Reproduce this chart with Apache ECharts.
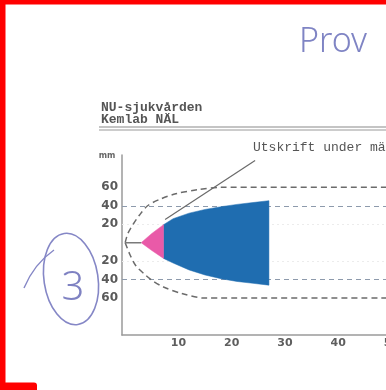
<!DOCTYPE html>
<html>
<head>
<meta charset="utf-8">
<script src="https://cdn.jsdelivr.net/npm/echarts@6/dist/echarts.min.js"></script>
<style>
  html, body { margin: 0; padding: 0; background: #ffffff; }
  #chart { width: 386px; height: 390px; }
</style>
</head>
<body>
<div id="chart"></div>
<script>
// Axis tick labels
const xTicks = [10, 20, 30, 40, 50];
const yTicks = [-60, -40, -20, 20, 40, 60];

// Pink leading segment (upper / lower edge, mm)
const pinkX = [3, 5, 7.2];
const pinkUpper = [0, 10, 19.5];
const pinkLower = [0, -8.5, -17];

// Blue main body (upper / lower edge, mm)
const blueX = [7.2, 9, 12, 15, 18, 21, 24, 27];
const blueUpper = [19.5, 26, 32, 36, 39, 41.5, 43.5, 45.5];
const blueLower = [-17, -22, -29.5, -35, -39, -42, -44, -46];

// Dashed limit curves
const limitUpX = [0, 0.5, 1.5, 2.7, 4.2, 6.5, 9.5, 13.7, 18, 55];
const limitUpY = [0, 10, 20, 30, 40, 47, 53, 57.5, 60, 60];
const limitLoX = [0, 0.9, 2, 3.6, 5.1, 7.2, 10.6, 14.9, 55];
const limitLoY = [0, -13, -25, -34, -41, -48, -55, -60, -60];

// Reference levels (mm)
const refLevels = [40, -40];
const faintLevels = [20, -20];

// Start stub and leader line to the note
const stubX = [0, 3];
const stubY = [0, 0];
const leaderX = [7.5, 24.4];
const leaderY = [25, 89];

const zip = (xs, ys) => xs.map((x, i) => [x, ys[i]]);

const chart = echarts.init(document.getElementById('chart'), null, { renderer: 'canvas' });

// A filled band between a lower and an upper edge, drawn as one polygon
// whose corners are mapped through the cartesian coordinate system.
const band = (xs, lower, upper, color) => ({
  type: 'custom',
  coordinateSystem: 'cartesian2d',
  data: [[xs[0], 0]],
  silent: true,
  z: 3,
  renderItem: (params, api) => {
    const top = xs.map((x, i) => api.coord([x, upper[i]]));
    const bottom = xs.map((x, i) => api.coord([x, lower[i]])).reverse();
    return {
      type: 'polygon',
      shape: { points: top.concat(bottom) },
      style: { fill: color, stroke: color, lineWidth: 0.5 }
    };
  }
});

const dashed = (xs, ys) => ({
  type: 'line',
  data: zip(xs, ys),
  symbol: 'none',
  smooth: 0.3,
  lineStyle: { color: '#6b6b6b', width: 1.5, type: [6, 4] },
  silent: true,
  z: 4
});

const refLine = (levels, style) => ({
  type: 'line',
  data: [],
  z: 1,
  markLine: {
    silent: true,
    symbol: 'none',
    z: 1,
    label: { show: false },
    lineStyle: style,
    data: levels.map(v => ({ yAxis: v }))
  }
});

const option = {
  animation: false,
  backgroundColor: '#ffffff',
  grid: { left: 122, width: 296, top: 155, bottom: 55, outerBoundsMode: 'none', containLabel: false },
  xAxis: {
    type: 'value',
    min: -0.6,
    max: 55,
    axisLine: { onZero: false, lineStyle: { color: '#9a9a9a', width: 1.5 } },
    axisTick: { show: false },
    splitLine: { show: false },
    axisLabel: {
      customValues: xTicks,
      color: '#5e5e5e',
      fontFamily: 'DejaVu Sans',
      fontWeight: 'bold',
      fontSize: 11,
      margin: 3
    }
  },
  yAxis: {
    type: 'value',
    min: -100,
    max: 95,
    axisLine: { onZero: false, lineStyle: { color: '#9a9a9a', width: 1.5 } },
    axisTick: { show: false },
    splitLine: { show: false },
    axisLabel: {
      customValues: yTicks,
      formatter: v => String(Math.abs(v)),
      color: '#5a5a5a',
      fontFamily: 'DejaVu Sans',
      fontWeight: 'bold',
      fontSize: 12,
      margin: 4
    }
  },
  series: [
    refLine(refLevels, { color: '#8d9aac', width: 1.2, type: [5, 4] }),
    refLine(faintLevels, { color: '#ececec', width: 1, type: [2, 3] }),
    band(blueX, blueLower, blueUpper, '#1f6db0'),
    band(pinkX, pinkLower, pinkUpper, '#e95aa8'),
    dashed(limitUpX, limitUpY),
    dashed(limitLoX, limitLoY),
    {
      type: 'line',
      data: zip(stubX, stubY),
      symbol: 'none',
      lineStyle: { color: '#7a7a7a', width: 1.5 },
      silent: true,
      z: 4
    },
    {
      type: 'line',
      data: zip(leaderX, leaderY),
      symbol: 'none',
      lineStyle: { color: '#6a6a6a', width: 1.2 },
      silent: true,
      z: 5
    }
  ],
  graphic: [
    // red frame
    { type: 'rect', shape: { x: 0, y: 0, width: 386, height: 4.5 }, style: { fill: '#ff0000' }, z: 100 },
    { type: 'rect', shape: { x: 0, y: 0, width: 5.5, height: 390 }, style: { fill: '#ff0000' }, z: 100 },
    { type: 'rect', shape: { x: 0, y: 382.5, width: 37, height: 7.5, r: [0, 3, 0, 0] }, style: { fill: '#ff0000' }, z: 100 },
    // header
    { type: 'text', x: 101, y: 108, style: { text: 'NU-sjukvården', fill: '#555555', font: 'bold 13px "Liberation Mono"', textVerticalAlign: 'middle' }, z: 50 },
    { type: 'text', x: 101, y: 120, style: { text: 'Kemlab NÄL', fill: '#555555', font: 'bold 13px "Liberation Mono"', textVerticalAlign: 'middle' }, z: 50 },
    { type: 'line', shape: { x1: 99, y1: 127, x2: 386, y2: 127 }, style: { stroke: '#8a8a8a', lineWidth: 1.2 }, z: 50 },
    { type: 'line', shape: { x1: 99, y1: 130, x2: 386, y2: 130 }, style: { stroke: '#9a9a9a', lineWidth: 1.2 }, z: 50 },
    // note
    { type: 'text', x: 253, y: 148, style: { text: 'Utskrift under mätning', fill: '#555555', font: '13px "Liberation Mono"', textVerticalAlign: 'middle' }, z: 50 },
    // unit
    { type: 'text', x: 107, y: 156, style: { text: 'mm', fill: '#666666', font: 'bold 8px "DejaVu Sans"', textAlign: 'center', textVerticalAlign: 'middle' }, z: 50 },
    // handwriting
    { type: 'text', x: 333, y: 42, style: { text: 'Prov', fill: '#7f84c4', font: '300 34px "Noto Sans"', textAlign: 'center', textVerticalAlign: 'middle' }, z: 50 },
    { type: 'ellipse', x: 71, y: 279, rotation: 0.15, shape: { cx: 0, cy: 0, rx: 27, ry: 46 }, style: { fill: 'none', stroke: '#8587c6', lineWidth: 1.6 }, z: 50 },
    { type: 'bezierCurve', shape: { x1: 24, y1: 288, x2: 54, y2: 250, cpx1: 34, cpy1: 264 }, style: { fill: 'none', stroke: '#8587c6', lineWidth: 1.4 }, z: 50 },
    { type: 'text', x: 73, y: 289, style: { text: '3', fill: '#7f82c2', font: '300 40px "Noto Sans"', textAlign: 'center', textVerticalAlign: 'middle' }, z: 50 }
  ]
};

chart.setOption(option);
</script>
</body>
</html>
